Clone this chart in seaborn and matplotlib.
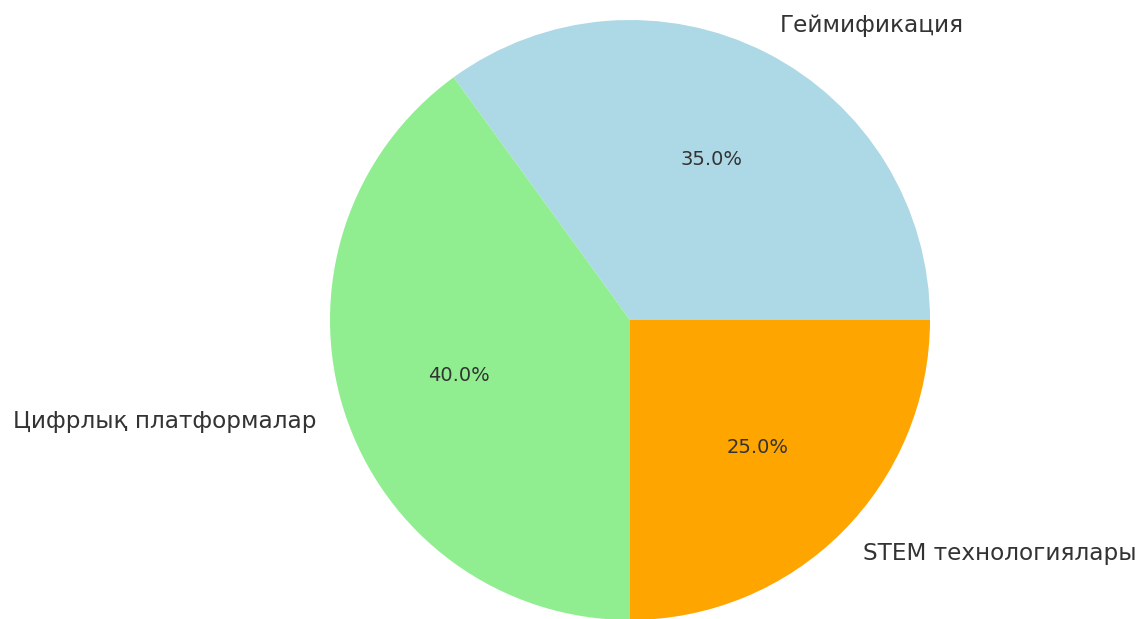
import matplotlib
matplotlib.use("Agg")
import matplotlib.pyplot as plt
import seaborn as sns

sns.set_theme(style="white")
plt.rcParams['font.family'] = ['DejaVu Sans']

categories = ["Геймификация", "Цифрлық платформалар", "STEM технологиялары"]
values = [35, 40, 25]
colors = ["lightblue", "lightgreen", "orange"]

W, H = 1143, 619
fig = plt.figure(figsize=(W / 100, H / 100), dpi=100)
cx, cy, r = 630, 320, 300
ax = fig.add_axes([(cx - r) / W, (H - cy - r) / H, 2 * r / W, 2 * r / H])
wedges, texts, autotexts = ax.pie(values, labels=categories, colors=colors,
                                  autopct="%1.1f%%", startangle=0,
                                  wedgeprops={"linewidth": 0, "edgecolor": "none"},
                                  textprops={"color": "#333333"})
for t in texts:
    t.set_fontsize(16.7)
for t in autotexts:
    t.set_fontsize(14)
ax.set_xlim(-1, 1)
ax.set_ylim(-1, 1)
ax.set_aspect("equal")
fig.savefig("out.png", dpi=100)
